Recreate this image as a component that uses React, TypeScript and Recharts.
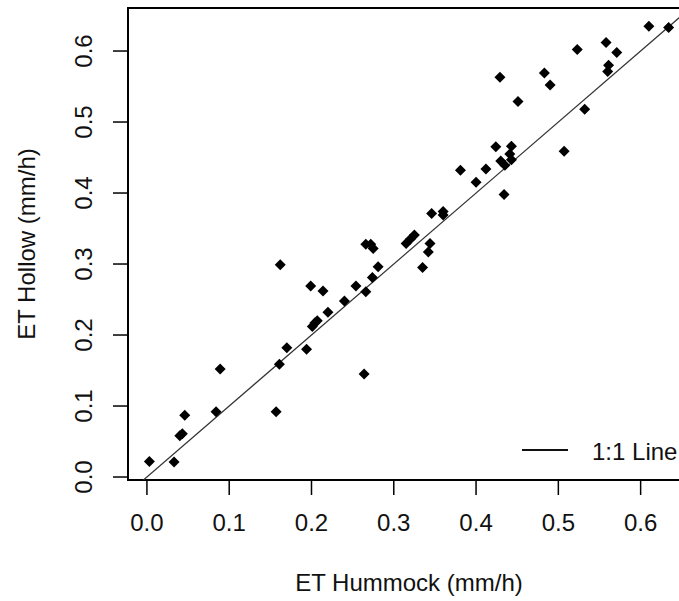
import React from "react";
import {
  ScatterChart,
  Scatter,
  XAxis,
  YAxis,
  ReferenceArea,
  ReferenceLine,
  Legend,
} from "recharts";

// ET measured at hummock (x) and hollow (y) microsites, mm/h
const etHummock = [
  0.003, 0.033, 0.04, 0.043, 0.046, 0.084, 0.089, 0.157, 0.161, 0.162,
  0.17, 0.194, 0.199, 0.201, 0.204, 0.207, 0.214, 0.22, 0.24, 0.254,
  0.264, 0.266, 0.266, 0.272, 0.275, 0.274, 0.281, 0.315, 0.32, 0.325,
  0.335, 0.342, 0.344, 0.346, 0.36, 0.36, 0.381, 0.4, 0.412, 0.424,
  0.43, 0.435, 0.434, 0.443, 0.441, 0.443, 0.429, 0.451, 0.483, 0.49,
  0.507, 0.523, 0.532, 0.558, 0.561, 0.56, 0.571, 0.61, 0.634,
];
const etHollow = [
  0.022, 0.021, 0.058, 0.061, 0.087, 0.092, 0.152, 0.092, 0.159, 0.299,
  0.182, 0.18, 0.269, 0.212, 0.217, 0.22, 0.262, 0.232, 0.248, 0.269,
  0.145, 0.261, 0.328, 0.328, 0.322, 0.281, 0.296, 0.329, 0.335, 0.341,
  0.295, 0.317, 0.329, 0.371, 0.374, 0.369, 0.432, 0.415, 0.434, 0.465,
  0.445, 0.439, 0.398, 0.466, 0.455, 0.447, 0.563, 0.529, 0.569, 0.552,
  0.459, 0.602, 0.518, 0.612, 0.58, 0.571, 0.598, 0.635, 0.633,
];

const xTicks = [0, 0.1, 0.2, 0.3, 0.4, 0.5, 0.6];
const yTicks = [0, 0.1, 0.2, 0.3, 0.4, 0.5, 0.6];
const xDomain = [-0.023, 0.66];
const yDomain = [-0.0042, 0.6606];

const data = etHummock.map((x, i) => ({ x, y: etHollow[i] }));

const FONT = "'Liberation Sans', Arial, sans-serif";

function Diamond(props: any) {
  const { cx, cy } = props;
  const r = 5.5;
  return (
    <polygon
      points={`${cx},${cy - r} ${cx + r},${cy} ${cx},${cy + r} ${cx - r},${cy}`}
      fill="#000"
    />
  );
}

function XTick({ x, y, payload }: any) {
  return (
    <text x={x} y={y + 36} textAnchor="middle" fontSize={24} fontFamily={FONT} fill="#111">
      {payload.value.toFixed(1)}
    </text>
  );
}

function YTick({ x, y, payload }: any) {
  const tx = x - 21;
  return (
    <text
      x={tx}
      y={y}
      transform={`rotate(-90, ${tx}, ${y})`}
      textAnchor="middle"
      fontSize={24}
      fontFamily={FONT}
      fill="#111"
    >
      {payload.value.toFixed(1)}
    </text>
  );
}

function XTitle({ viewBox }: any) {
  const { x, y, width } = viewBox;
  return (
    <text x={x + width / 2} y={y + 111} textAnchor="middle" fontSize={24} fontFamily={FONT} fill="#111">
      ET Hummock (mm/h)
    </text>
  );
}

function YTitle({ viewBox }: any) {
  const { x, y, height } = viewBox;
  const tx = x + 35;
  const ty = y + height / 2;
  return (
    <text
      x={tx}
      y={ty}
      transform={`rotate(-90, ${tx}, ${ty})`}
      textAnchor="middle"
      fontSize={24}
      fontFamily={FONT}
      fill="#111"
    >
      ET Hollow (mm/h)
    </text>
  );
}

function OneToOneLegend() {
  return (
    <svg width={170} height={30} style={{ display: "block" }}>
      <line x1={8} y1={14} x2={54} y2={14} stroke="#111" strokeWidth={2} />
      <text x={78} y={24} fontSize={24} fontFamily={FONT} fill="#111">
        1:1 Line
      </text>
    </svg>
  );
}

export default function App() {
  return (
    <div
      style={{
        position: "fixed",
        left: 0,
        top: 0,
        width: 679,
        height: 601,
        overflow: "hidden",
        background: "#fff",
      }}
    >
      <ScatterChart width={720} height={601} margin={{ top: 8, right: 30, bottom: 0, left: 0 }}>
        <XAxis
          type="number"
          dataKey="x"
          domain={xDomain}
          ticks={xTicks}
          allowDataOverflow
          axisLine={false}
          tickSize={15}
          tickMargin={0}
          tickLine={{ stroke: "#000", strokeWidth: 1.5 }}
          tick={<XTick />}
          height={121}
          label={<XTitle />}
        />
        <YAxis
          type="number"
          dataKey="y"
          domain={yDomain}
          ticks={yTicks}
          allowDataOverflow
          axisLine={false}
          tickSize={15}
          tickMargin={0}
          tickLine={{ stroke: "#000", strokeWidth: 1.5 }}
          tick={<YTick />}
          width={128}
          label={<YTitle />}
        />
        <ReferenceArea
          x1={xDomain[0]}
          x2={xDomain[1]}
          y1={yDomain[0]}
          y2={yDomain[1]}
          fill="none"
          stroke="#000"
          strokeWidth={2}
          ifOverflow="visible"
        />
        {/* 1:1 line, clipped to the plot box */}
        <ReferenceLine
          segment={[
            { x: yDomain[0], y: yDomain[0] },
            { x: yDomain[1], y: yDomain[1] },
          ]}
          stroke="#333"
          strokeWidth={1.2}
          ifOverflow="hidden"
        />
        <Legend
          layout="vertical"
          align="center"
          verticalAlign="middle"
          content={<OneToOneLegend />}
          wrapperStyle={{ position: "absolute", left: 514, top: 436, width: 170, height: 30 }}
        />
        <Scatter data={data} shape={<Diamond />} isAnimationActive={false} />
      </ScatterChart>
    </div>
  );
}
